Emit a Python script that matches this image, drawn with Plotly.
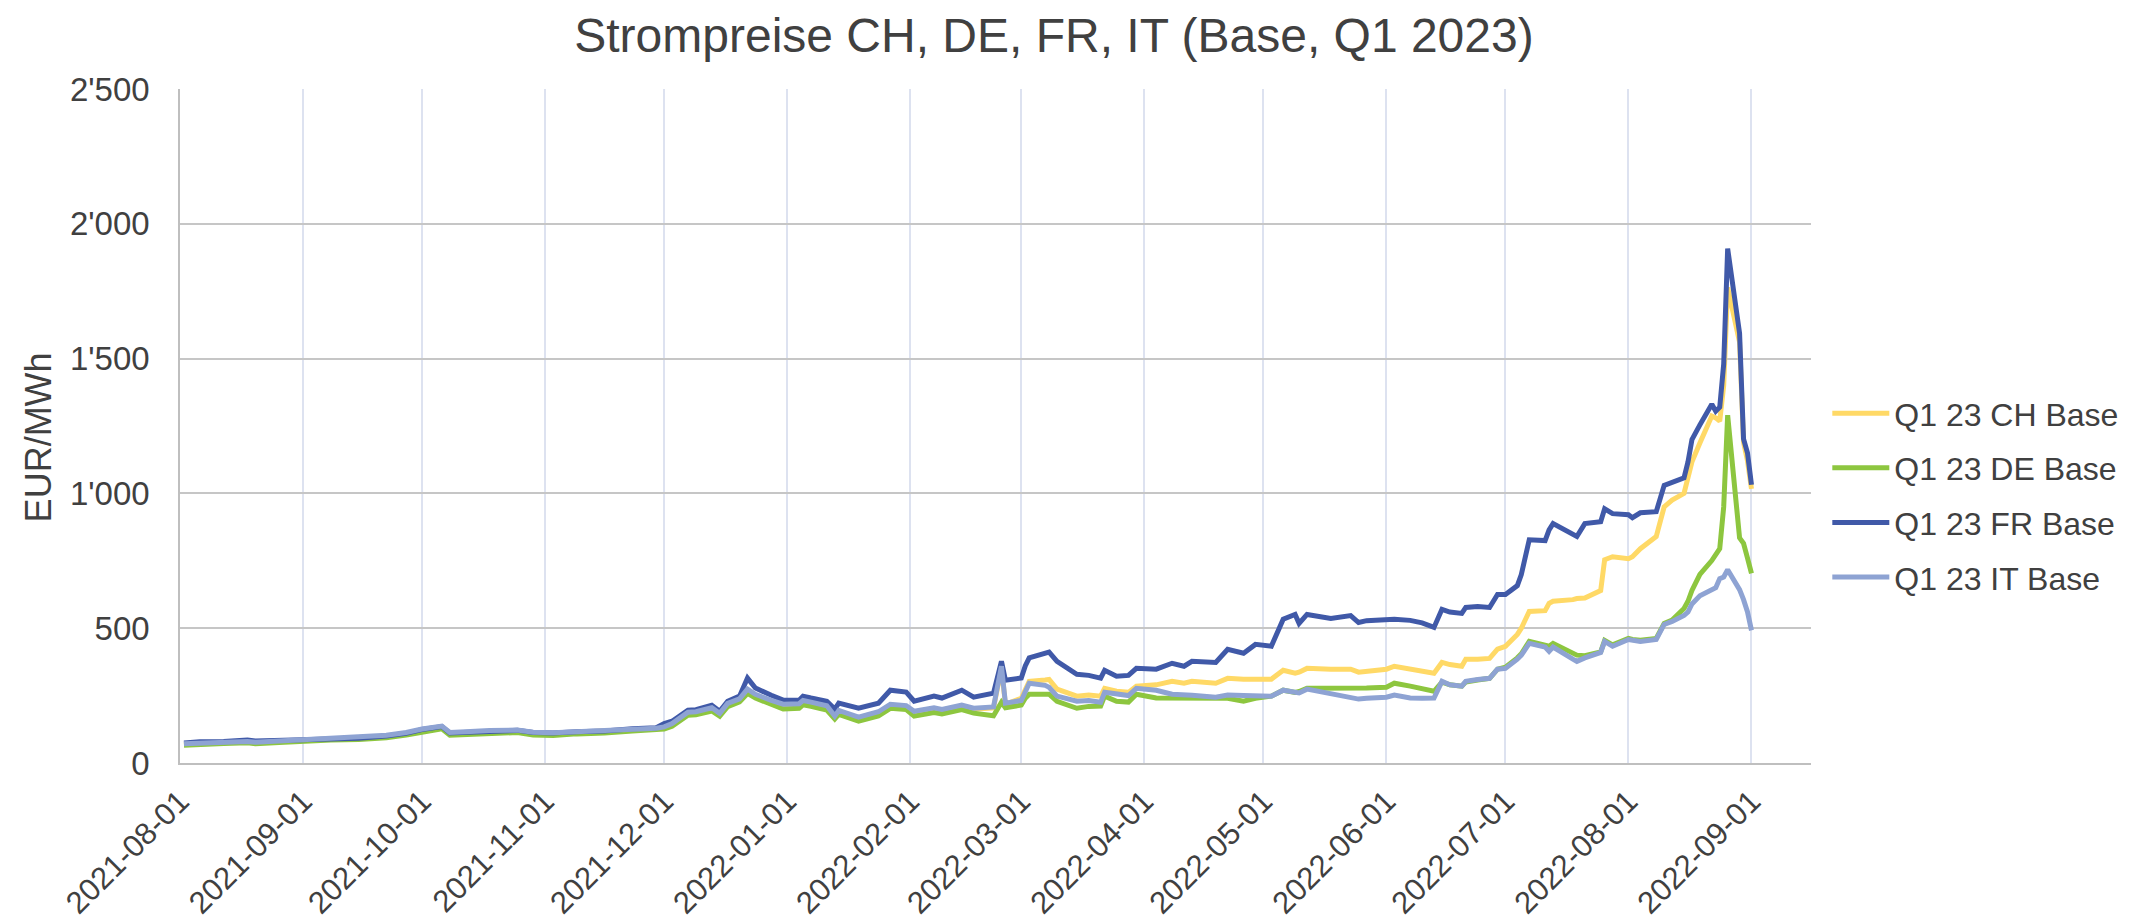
import plotly.graph_objects as go

dates = [
    "2021-08-02", "2021-08-06", "2021-08-12", "2021-08-18", "2021-08-20", "2021-08-26",
    "2021-09-01", "2021-09-08", "2021-09-15", "2021-09-22", "2021-09-27",
    "2021-10-01", "2021-10-06", "2021-10-08", "2021-10-12", "2021-10-18", "2021-10-25", "2021-10-29",
    "2021-11-03", "2021-11-09", "2021-11-16", "2021-11-23", "2021-11-29",
    "2021-12-01", "2021-12-03", "2021-12-07", "2021-12-09", "2021-12-13", "2021-12-15", "2021-12-17",
    "2021-12-20", "2021-12-22", "2021-12-24", "2021-12-28", "2021-12-31",
    "2022-01-04", "2022-01-05", "2022-01-07", "2022-01-11", "2022-01-13", "2022-01-14", "2022-01-19",
    "2022-01-21", "2022-01-24", "2022-01-27", "2022-01-31",
    "2022-02-02", "2022-02-07", "2022-02-09", "2022-02-14", "2022-02-17", "2022-02-22", "2022-02-24",
    "2022-02-25",
    "2022-03-01", "2022-03-02", "2022-03-03", "2022-03-07", "2022-03-08", "2022-03-10", "2022-03-15",
    "2022-03-18", "2022-03-21", "2022-03-22", "2022-03-25", "2022-03-28", "2022-03-30",
    "2022-04-04", "2022-04-08", "2022-04-11", "2022-04-13", "2022-04-19", "2022-04-22", "2022-04-26",
    "2022-04-29",
    "2022-05-03", "2022-05-06", "2022-05-09", "2022-05-10", "2022-05-12", "2022-05-18", "2022-05-23",
    "2022-05-25", "2022-05-27",
    "2022-06-01", "2022-06-03", "2022-06-07", "2022-06-10", "2022-06-13", "2022-06-15", "2022-06-17",
    "2022-06-20", "2022-06-21", "2022-06-24", "2022-06-27", "2022-06-29",
    "2022-07-01", "2022-07-04", "2022-07-05", "2022-07-07", "2022-07-11", "2022-07-12", "2022-07-13",
    "2022-07-18", "2022-07-19", "2022-07-21", "2022-07-25", "2022-07-26", "2022-07-28",
    "2022-08-01", "2022-08-02", "2022-08-04", "2022-08-08", "2022-08-10", "2022-08-12", "2022-08-15",
    "2022-08-16", "2022-08-17", "2022-08-19", "2022-08-22", "2022-08-23", "2022-08-24", "2022-08-25",
    "2022-08-26", "2022-08-29", "2022-08-30", "2022-08-31", "2022-09-01",
]

ch_base = [
    70, 73, 75, 79, 76, 80,
    85, 89, 91, 99, 109,
    122, 132, 109, 112, 117, 119, 111,
    109, 114, 117, 124, 127,
    132, 142, 184, 186, 201, 181, 217,
    235, 268, 250, 227, 212,
    214, 228, 221, 207, 170, 190, 166,
    173, 186, 214, 209,
    188, 200, 194, 211, 199, 204, 352,
    218,
    240, 275, 303, 308, 310, 274, 248,
    252, 248, 277, 266, 262, 285,
    290, 303, 296, 303, 296, 314, 311,
    313,
    311, 344, 333, 337, 351, 348, 348,
    337, 340,
    348, 359, 348, 340, 333, 373, 365,
    359, 385, 385, 388, 422,
    433, 477, 500, 562, 565, 592, 600,
    606, 610, 612, 640, 754, 765,
    758, 765, 795, 840, 950, 975, 1000,
    1058, 1117, 1187, 1287, 1280, 1268, 1400,
    1764, 1561, 1190, 1120, 1017,
]

de_base = [
    66, 70, 72, 75, 71, 76,
    81, 85, 87, 94, 104,
    116, 127, 103, 106, 111, 113, 104,
    102, 108, 111, 119, 122,
    126, 136, 177, 179, 193, 174, 209,
    227, 258, 241, 218, 200,
    203, 216, 210, 196, 163, 180, 155,
    163, 175, 203, 198,
    174, 187, 182, 198, 185, 175, 225,
    205,
    215, 240, 255, 258, 255, 229, 203,
    210, 211, 248, 229, 226, 255,
    241, 241, 241, 237, 237, 240, 229,
    240,
    248, 270, 262, 265, 277, 277, 274,
    274, 278,
    281, 296, 285, 275, 266, 300, 290,
    285, 300, 308, 314, 348,
    355, 390, 405, 451, 440, 433, 444,
    407, 400, 398, 412, 455, 438,
    462, 458, 455, 462, 518, 530, 573,
    600, 640, 700, 751, 777, 795, 950,
    1290, 835, 815, 760, 703,
]

fr_base = [
    74, 79, 80, 85, 82, 84,
    88, 91, 92, 100, 110,
    124, 135, 111, 114, 120, 121, 113,
    111, 116, 119, 127, 131,
    146, 155, 196, 198, 214, 192, 229,
    248, 315, 278, 251, 233,
    233, 248, 241, 229, 200, 222, 203,
    210, 222, 270, 263,
    229, 248, 241, 270, 244, 259, 377,
    307,
    315, 360, 390, 405, 411, 377, 329,
    325, 315, 344, 322, 325, 351,
    348, 370, 359, 377, 373, 422, 407,
    440,
    433, 533, 551, 518, 551, 536, 547,
    521, 528,
    529, 533, 529, 520, 503, 570, 560,
    555, 577, 580, 577, 625,
    625, 658, 699, 828, 825, 865, 888,
    847, 840, 888, 895, 943, 925,
    921, 910, 928, 932, 1030, 1040, 1058,
    1117, 1200, 1254, 1331, 1305, 1320, 1480,
    1908, 1594, 1202, 1150, 1032,
]

it_base = [
    71, 74, 76, 80, 77, 81,
    87, 93, 95, 103, 113,
    126, 137, 113, 116, 121, 122, 114,
    112, 116, 119, 126, 129,
    134, 146, 188, 190, 205, 184, 221,
    238, 274, 255, 232, 218,
    220, 232, 226, 212, 174, 195, 170,
    178, 190, 218, 213,
    192, 205, 199, 215, 203, 208, 359,
    222,
    232, 270, 296, 288, 281, 248, 229,
    232, 225, 262, 255, 250, 277,
    270, 255, 255, 251, 244, 252, 250,
    250,
    248, 270, 259, 260, 274, 255, 241,
    237, 240,
    244, 252, 241, 240, 241, 303, 290,
    285, 303, 310, 314, 348,
    351, 385, 400, 444, 430, 414, 430,
    385, 377, 390, 410, 451, 433,
    458, 455, 451, 458, 514, 525, 547,
    560, 590, 620, 643, 650, 684, 690,
    717, 643, 606, 560, 492,
]

series_names = ["Q1 23 CH Base", "Q1 23 DE Base", "Q1 23 FR Base", "Q1 23 IT Base"]
series_values = [ch_base, de_base, fr_base, it_base]
series_colors = ["#FFD966", "#8DC63F", "#4059A8", "#8EA3D3"]

y_ticks = [0, 500, 1000, 1500, 2000, 2500]

FONT = "Liberation Sans, Arial, sans-serif"
TXT = "#404040"

fig = go.Figure()
for name, vals, color in zip(series_names, series_values, series_colors):
    fig.add_trace(go.Scatter(
        x=dates, y=vals, mode="lines", name=name, legendgroup=name,
        line=dict(color=color, width=5),
    ))

fig.update_layout(
    width=2154, height=924,
    margin=dict(l=172, r=351, t=81, b=167),
    paper_bgcolor="white", plot_bgcolor="white",
    font=dict(family=FONT, color=TXT),
    separators=".'",
    title=dict(
        text="Strompreise CH, DE, FR, IT (Base, Q1 2023)",
        font=dict(size=48, color=TXT, family=FONT),
        x=0.4856, xref="container", xanchor="center",
        y=0.989, yref="container", yanchor="top",
        pad=dict(t=0, b=0, l=0, r=0),
    ),
    showlegend=True,
    legend=dict(
        x=1.01, xanchor="left", y=0.397, yanchor="middle",
        font=dict(size=32, color=TXT, family=FONT),
        tracegroupgap=10, itemwidth=57, bgcolor="rgba(0,0,0,0)",
    ),
    xaxis=dict(
        type="date",
        range=["2021-08-01", "2022-09-16"],
        tick0="2021-08-01", dtick="M1",
        tickformat="%Y-%m-%d", tickangle=-45,
        tickfont=dict(size=31, color=TXT, family=FONT),
        showgrid=True, gridcolor="#dde2f0", gridwidth=1.5,
        showline=True, linecolor="#bfbfbf", linewidth=1.5,
        ticks="", ticklabelstandoff=6,
        zeroline=False,
    ),
    yaxis=dict(
        range=[0, 2500], tickvals=y_ticks, tickformat=",",
        tickfont=dict(size=33, color=TXT, family=FONT),
        showgrid=True, gridcolor="#c6c6c6", gridwidth=1.5,
        showline=True, linecolor="#bfbfbf", linewidth=1.5,
        ticks="", ticklabelstandoff=22,
        zeroline=False,
    ),
    annotations=[dict(
        text="EUR/MWh", textangle=-90,
        xref="paper", yref="paper", x=-0.0865, y=0.483,
        xanchor="center", yanchor="middle", showarrow=False,
        font=dict(size=36, color=TXT, family=FONT),
    )],
)

fig.write_html("out.html")
